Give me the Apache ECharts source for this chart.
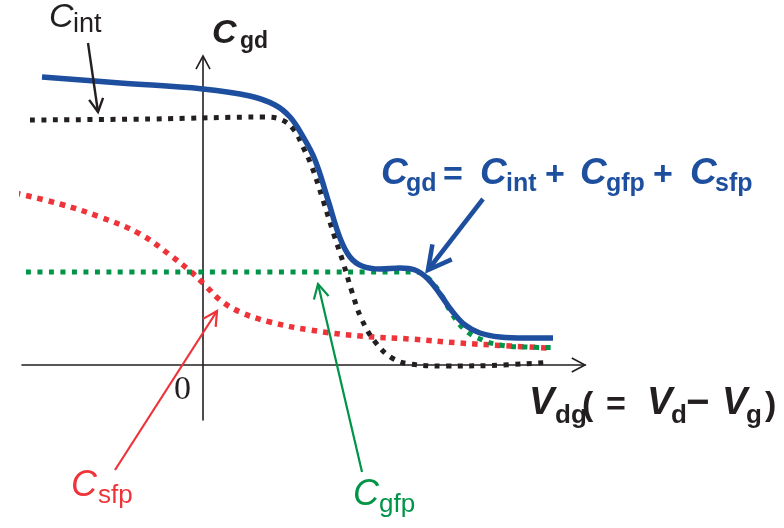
<!DOCTYPE html>
<html>
<head>
<meta charset="utf-8">
<script src="https://cdn.jsdelivr.net/npm/echarts@6/dist/echarts.min.js"></script>
<style>html,body{margin:0;padding:0;background:#fff;}#chart{width:784px;height:528px;}</style>
</head>
<body>
<div id="chart"></div>
<script>
// ---- data (schematic units: V_dg on x, capacitance on y) ----
const cgdX  = [-3.22,-1.66,0,0.94,1.44,1.74,1.98,2.24,2.50,2.74,2.94,3.18,3.54,3.94,4.24,4.50,4.74,4.98,5.24,5.54,5.94,6.44,7.00];
const cgdY  = [5.76,5.64,5.52,5.38,5.20,4.96,4.60,4.10,3.30,2.54,2.16,1.98,1.92,1.94,1.90,1.72,1.42,1.08,0.80,0.64,0.56,0.54,0.54];
const cintX = [-3.46,-1.06,1.24,1.58,1.82,2.00,2.18,2.40,2.62,2.80,2.98,3.18,3.46,3.78,4.14,4.88,5.74,6.84];
const cintY = [4.90,4.92,4.96,4.90,4.70,4.36,3.96,3.30,2.60,2.06,1.46,0.90,0.44,0.14,0.02,-0.02,-0.01,0.05];
const cgfpX = [-3.54,4.24,4.50,4.74,4.98,5.24,5.54,5.94,6.44,6.98];
const cgfpY = [1.86,1.86,1.74,1.44,1.02,0.70,0.52,0.40,0.36,0.35];
const csfpX = [-3.76,-2.86,-2.06,-1.26,-0.66,-0.26,0.04,0.34,0.74,1.34,2.14,3.14,4.14,5.14,6.14,6.88];
const csfpY = [3.44,3.22,2.96,2.62,2.20,1.88,1.60,1.30,1.06,0.86,0.70,0.58,0.52,0.44,0.38,0.34];
// annotation arrows: [fromX, fromY, tipX, tipY]
const arrowCint = [-2.30, 6.44, -2.10, 5.06];
const arrowCgd  = [5.60, 3.32, 4.50, 1.90];
const arrowCsfp = [-1.76, -2.10, 0.28, 1.08];
const arrowCgfp = [3.18, -2.14, 2.30, 1.62];
const arrowXAxis = [7.0, 0, 7.64, 0];
const arrowYAxis = [0, 5.6, 0, 6.18];
const xRange = [-3.62, 7.64];
const yRange = [-1.1, 6.16];
const zeroLabel = '0';

// ---- styles ----
const BLACK = '#231f20', BLUE = '#1e4f9f', RED = '#ee3339', GREEN = '#009448';
const zip = (xs, ys) => xs.map((x, i) => [x, ys[i]]);

const arrows = [
  { pts: arrowCint, color: BLACK, width: 2.4, head: 15, shaft: true },
  { pts: arrowCgd,  color: BLUE,  width: 4.5, head: 26, shaft: true },
  { pts: arrowCsfp, color: RED,   width: 2.2, head: 16, shaft: true },
  { pts: arrowCgfp, color: GREEN, width: 2.2, head: 16, shaft: true },
  { pts: arrowXAxis, color: BLACK, width: 1.6, head: 15, shaft: false },
  { pts: arrowYAxis, color: BLACK, width: 1.6, head: 15, shaft: false }
];

function lineSeries(xs, ys, color, width, dash, z) {
  return {
    type: 'line', data: zip(xs, ys), showSymbol: false, smooth: 0.4,
    clip: false, z: z, silent: true,
    lineStyle: { color: color, width: width, type: dash || 'solid', cap: 'butt', join: 'round' }
  };
}

// text label helper: left x, baseline y
const SANS = '"Liberation Sans", Arial, Helvetica, sans-serif';
function t(x, base, text, size, color, weight, style, family) {
  return {
    type: 'text', x: x, y: base - 0.3465 * size, z: 100, silent: true,
    style: {
      text: text, fill: color, fontSize: size, fontWeight: weight || 'normal',
      fontStyle: style || 'normal', fontFamily: family || SANS,
      align: 'left', verticalAlign: 'middle'
    }
  };
}

const labels = [
  // C_int (top-left)
  t(49, 29, 'C', 34, BLACK, 'normal', 'italic'),
  t(73, 34, 'int', 27, BLACK),
  // C_gd axis label
  t(212, 45, 'C', 34, BLACK, 'bold', 'italic'),
  t(240, 50, 'gd', 23, BLACK, 'bold'),
  // formula
  t(381, 187, 'C', 37, BLUE, 'bold', 'italic'),
  t(406, 193, 'gd', 25, BLUE, 'bold'),
  t(443, 187, '=', 34, BLUE, 'bold'),
  t(480, 187, 'C', 37, BLUE, 'bold', 'italic'),
  t(506, 193, 'int', 25, BLUE, 'bold'),
  t(545, 187, '+', 34, BLUE, 'bold'),
  t(580, 187, 'C', 37, BLUE, 'bold', 'italic'),
  t(606, 193, 'gfp', 25, BLUE, 'bold'),
  t(653, 187, '+', 34, BLUE, 'bold'),
  t(690, 187, 'C', 37, BLUE, 'bold', 'italic'),
  t(715, 193, 'sfp', 25, BLUE, 'bold'),
  // x axis label
  t(529, 417, 'V', 38, BLACK, 'bold', 'italic'),
  t(555, 425, 'dg', 26, BLACK, 'bold'),
  t(582, 417, '(', 34, BLACK, 'bold'),
  t(606, 417, '=', 34, BLACK, 'bold'),
  t(647, 417, 'V', 38, BLACK, 'bold', 'italic'),
  t(671, 425, 'd', 26, BLACK, 'bold'),
  t(686, 418, '\u2212', 40, BLACK, 'bold'),
  t(722, 417, 'V', 38, BLACK, 'bold', 'italic'),
  t(746, 425, 'g', 26, BLACK, 'bold'),
  t(765, 417, ')', 34, BLACK, 'bold'),
  // origin
  t(174, 402, zeroLabel, 34, BLACK, 'normal', 'normal', '"Liberation Serif", "Times New Roman", serif'),
  // C_sfp
  t(71, 498, 'C', 36, RED, 'normal', 'italic'),
  t(98, 505, 'sfp', 26, RED),
  // C_gfp
  t(353, 507, 'C', 36, GREEN, 'normal', 'italic'),
  t(379, 514, 'gfp', 26, GREEN)
];

const chart = echarts.init(document.getElementById('chart'), null, { renderer: 'canvas' });
chart.setOption({
  animation: false,
  backgroundColor: '#ffffff',
  grid: { left: 22, right: 199, top: 57, bottom: 108, containLabel: false },
  xAxis: {
    type: 'value', min: xRange[0], max: xRange[1],
    axisLine: { show: true, onZero: true, lineStyle: { color: BLACK, width: 1.6 } },
    axisTick: { show: false }, axisLabel: { show: false }, splitLine: { show: false }
  },
  yAxis: {
    type: 'value', min: yRange[0], max: yRange[1],
    axisLine: { show: true, onZero: true, lineStyle: { color: BLACK, width: 1.6 } },
    axisTick: { show: false }, axisLabel: { show: false }, splitLine: { show: false }
  },
  series: [
    lineSeries(csfpX, csfpY, RED, 5.5, [5.5, 6], 2),
    lineSeries(cgfpX, cgfpY, GREEN, 5, [5, 6.5], 3),
    lineSeries(cintX, cintY, BLACK, 5, [5, 6.5], 4),
    lineSeries(cgdX, cgdY, BLUE, 5.5, 'solid', 5),
    {
      type: 'custom', coordinateSystem: 'cartesian2d', clip: false, z: 10, silent: true,
      data: arrows.map(a => [a.pts[2], a.pts[3]]),
      renderItem: function (params, api) {
        const a = arrows[params.dataIndex];
        const p0 = api.coord([a.pts[0], a.pts[1]]);
        const p1 = api.coord([a.pts[2], a.pts[3]]);
        const ang = Math.atan2(p0[1] - p1[1], p0[0] - p1[0]);
        const s = 28 * Math.PI / 180;
        const w1 = [p1[0] + a.head * Math.cos(ang + s), p1[1] + a.head * Math.sin(ang + s)];
        const w2 = [p1[0] + a.head * Math.cos(ang - s), p1[1] + a.head * Math.sin(ang - s)];
        const st = { stroke: a.color, lineWidth: a.width, fill: null, lineJoin: 'miter', lineCap: 'butt' };
        const children = [];
        if (a.shaft) children.push({ type: 'polyline', shape: { points: [p0, p1] }, style: st });
        children.push({ type: 'polyline', shape: { points: [w1, p1, w2] }, style: st });
        return { type: 'group', children: children };
      }
    }
  ],
  graphic: { elements: labels }
});
</script>
</body>
</html>
